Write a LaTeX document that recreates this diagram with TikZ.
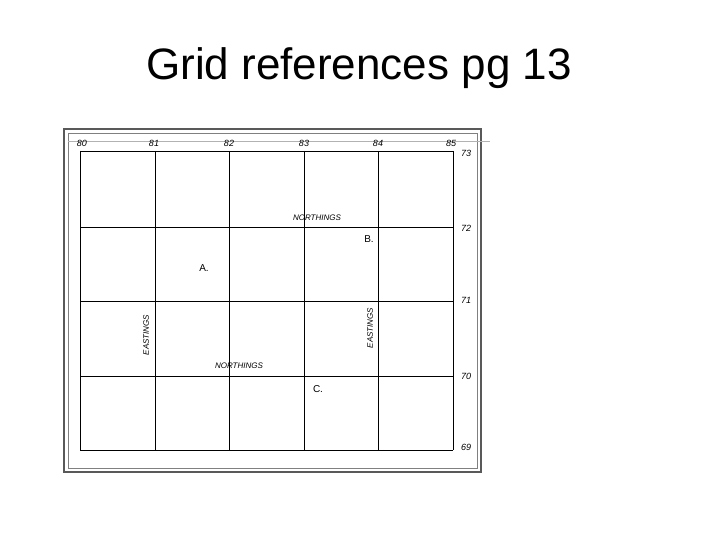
\documentclass[tikz,border=0pt]{standalone}
\usepackage{fontspec}
\setmainfont{Liberation Sans}
\begin{document}
\begin{tikzpicture}[x=1pt,y=-1pt,
  lab/.style={font=\fontsize{9}{10}\selectfont\itshape,inner sep=0pt},
  word/.style={font=\fontsize{8}{9}\selectfont\itshape,inner sep=0pt},
  pt/.style={font=\fontsize{10}{11}\selectfont,inner sep=0pt},
  gl/.style={line width=0.7pt}]
\useasboundingbox (0,0) rectangle (720,540);
\node (title) at (359,68) {\fontsize{44}{48}\selectfont Grid references pg 13};
\draw[line width=2pt,gray!70!black] (64,129) rectangle (481,472);
\draw[line width=0.6pt,gray] (68,133) rectangle (477,468);
\draw[line width=0.4pt,gray!60] (68,141) -- (490,141);
\foreach \x in {80,155,229,304,378,453} \draw[gl] (\x,151) -- (\x,450);
\foreach \y in {151,227,301,376,450} \draw[gl] (80,\y) -- (453,\y);
\foreach \x/\t in {82/80,154/81,229/82,304/83,378/84,451/85}
  \node[lab] (e\t) at (\x,143) {\t};
\foreach \y/\t in {153/73,228/72,300/71,376/70,447/69}
  \node[lab] (n\t) at (466,\y) {\t};
\node[word] (w1) at (317,218) {NORTHINGS};
\node[word] (w2) at (239,366) {NORTHINGS};
\node[word,rotate=90] (w3) at (146,335) {EASTINGS};
\node[word,rotate=90] (w4) at (370,328) {EASTINGS};
\node[pt] (A) at (204,268) {A.};
\node[pt] (B) at (369,239) {B.};
\node[pt] (C) at (318,389) {C.};
\end{tikzpicture}
\end{document}
